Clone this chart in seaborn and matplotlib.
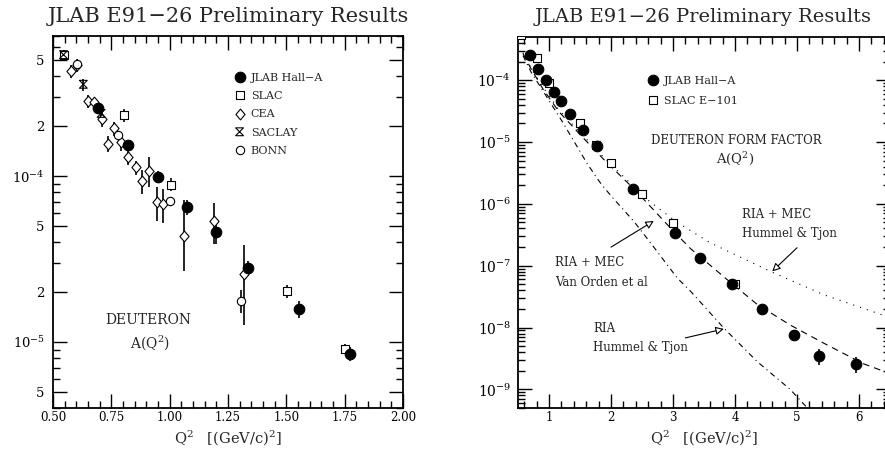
import numpy as np
import pandas as pd
import matplotlib
matplotlib.use("Agg")
import matplotlib.pyplot as plt
from matplotlib.path import Path
from matplotlib.ticker import FixedLocator, FixedFormatter, MultipleLocator, NullFormatter
import seaborn as sns

# ---------------- data: left panel (A(Q^2) vs Q^2) ----------------
jlab_q2 = [0.692, 0.823, 0.952, 1.073, 1.200, 1.336, 1.554, 1.773]
jlab_a = [2.58e-4, 1.54e-4, 9.9e-5, 6.5e-5, 4.6e-5, 2.79e-5, 1.58e-5, 8.5e-6]
jlab_err = [0.8e-5, 0.8e-5, 0.8e-5, 0.65e-5, 0.7e-5, 0.28e-5, 0.19e-5, 0.085e-5]

slac_q2 = [0.545, 0.804, 1.004, 1.503, 1.752]
slac_a = [5.4e-4, 2.33e-4, 8.9e-5, 2.03e-5, 9.1e-6]
slac_err = [3.8e-5, 2.1e-5, 0.8e-5, 1.8e-6, 0.64e-6]

cea_q2 = [0.576, 0.602, 0.651, 0.677, 0.709, 0.734, 0.761, 0.791, 0.823,
          0.854, 0.883, 0.911, 0.944, 0.973, 1.063, 1.191, 1.319]
cea_a = [4.3e-4, 4.67e-4, 2.83e-4, 2.8e-4, 2.2e-4, 1.57e-4, 1.94e-4, 1.61e-4, 1.31e-4,
         1.13e-4, 9.4e-5, 1.08e-4, 7.0e-5, 6.8e-5, 4.37e-5, 5.37e-5, 2.57e-5]
cea_err_lo = [3.7e-5, 4.1e-5, 2.5e-5, 1.7e-5, 2.2e-5, 1.7e-5, 1.9e-5, 1.9e-5, 1.4e-5,
              1.1e-5, 1.55e-5, 2.2e-5, 1.6e-5, 1.6e-5, 1.7e-5, 1.45e-5, 1.3e-5]
cea_err_hi = [3.7e-5, 4.1e-5, 2.5e-5, 1.7e-5, 2.2e-5, 1.7e-5, 1.9e-5, 1.9e-5, 1.4e-5,
              1.1e-5, 1.55e-5, 2.2e-5, 1.6e-5, 1.6e-5, 2.8e-5, 1.5e-5, 1.29e-5]

saclay_q2 = [0.545, 0.630, 0.706]
saclay_a = [5.4e-4, 3.58e-4, 2.39e-4]
saclay_err = [2.5e-5, 3.0e-5, 1.7e-5]

bonn_q2 = [0.603, 0.780, 1.001, 1.306]
bonn_a = [4.75e-4, 1.78e-4, 7.1e-5, 1.77e-5]
bonn_err = [2.5e-5, 1.0e-5, 0.4e-5, 0.28e-5]

# ---------------- data: right panel (extra high-Q^2 points) ----------------
jlab_hi_q2 = [2.35, 3.04, 3.44, 3.95, 4.44, 4.95, 5.36, 5.95]
jlab_hi_a = [1.75e-6, 3.4e-7, 1.35e-7, 5.1e-8, 2.0e-8, 7.7e-9, 3.5e-9, 2.6e-9]
jlab_hi_err = [0.1e-6, 0.25e-7, 0.1e-7, 0.77e-8, 0.34e-8, 1.6e-9, 1.0e-9, 0.73e-9]

slac_hi_q2 = [2.0, 2.5, 3.0, 4.0]
slac_hi_a = [4.6e-6, 1.45e-6, 4.9e-7, 5.0e-8]
slac_hi_err = [0.3e-6, 0.1e-6, 0.4e-7, 0.6e-8]

# theory curves
vo_q2 = [0.58, 0.7, 0.9, 1.16, 1.54, 1.92, 2.37, 2.91, 3.28, 3.87, 4.36, 4.89, 5.43, 6.07, 6.5]
vo_a = [2.7e-4, 1.6e-4, 7.3e-5, 3.1e-5, 1.2e-5, 4.8e-6, 1.75e-6, 4.6e-7, 1.9e-7,
        6.0e-8, 2.36e-8, 1.1e-8, 5.6e-9, 2.6e-9, 1.8e-9]
htmec_q2 = [0.58, 0.7, 0.9, 1.16, 1.54, 1.92, 2.37, 2.61, 3.07, 3.34, 3.6, 4.57, 5.43, 6.5]
htmec_a = [2.8e-4, 1.65e-4, 7.8e-5, 3.3e-5, 1.3e-5, 5.2e-6, 1.9e-6, 1.12e-6, 5.0e-7,
           3.4e-7, 2.35e-7, 8.1e-8, 3.4e-8, 1.45e-8]
ria_q2 = [0.58, 0.71, 1.0, 1.22, 1.62, 1.84, 2.02, 2.37, 2.63, 3.07, 3.28, 3.82, 4.36, 4.89, 5.2]
ria_a = [2.5e-4, 1.36e-4, 4.7e-5, 2.1e-5, 4.4e-6, 2.1e-6, 1.28e-6, 5.2e-7, 2.4e-7,
         6.3e-8, 3.9e-8, 9.8e-9, 2.8e-9, 1.0e-9, 4.6e-10]

left_xticks = [0.50, 0.75, 1.00, 1.25, 1.50, 1.75, 2.00]
left_xlabels = ["0.50", "0.75", "1.00", "1.25", "1.50", "1.75", "2.00"]
left_yticks = [5e-6, 1e-5, 2e-5, 5e-5, 1e-4, 2e-4, 5e-4]
left_ylabels = ["5", "10$^{-5}$", "2", "5", "10$^{-4}$", "2", "5"]
right_xticks = [1, 2, 3, 4, 5, 6]
right_yticks = [1e-9, 1e-8, 1e-7, 1e-6, 1e-5, 1e-4]
right_ylabels = ["10$^{-9}$", "10$^{-8}$", "10$^{-7}$", "10$^{-6}$", "10$^{-5}$", "10$^{-4}$"]

# ---------------- style ----------------
sns.set_style("ticks")
plt.rcParams["font.family"] = ["DejaVu Serif"]
plt.rcParams["mathtext.fontset"] = "dejavuserif"
plt.rcParams["mathtext.default"] = "regular"

W, H = 885, 451
fig = plt.figure(figsize=(W / 100, H / 100), dpi=100)
fig.patch.set_facecolor("white")


def frac(px, py):
    return px / W, 1 - py / H


axL = fig.add_axes([53 / W, 1 - 408 / H, 350 / W, 372 / H])
axR = fig.add_axes([518 / W, 1 - 408 / H, 372 / W, 371 / H])

# marker shapes
diamond = Path([(0, 1), (0.85, 0), (0, -1), (-0.85, 0), (0, 1)],
               [Path.MOVETO, Path.LINETO, Path.LINETO, Path.LINETO, Path.CLOSEPOLY])
hourglass = Path([(-1, 1), (1, 1), (-1, -1), (1, -1), (-1, 1)],
                 [Path.MOVETO, Path.LINETO, Path.LINETO, Path.LINETO, Path.CLOSEPOLY])


def errs(ax, q, a, e):
    ax.errorbar(q, a, yerr=e, fmt="none", ecolor="black", elinewidth=1.2, capsize=0, zorder=2)


def pts(ax, q, a, marker, s, fc, lw=0.8):
    sns.scatterplot(x=q, y=a, ax=ax, marker=marker, s=s, facecolor=fc,
                    edgecolor="black", linewidth=lw, zorder=3, legend=False)
    return ax.collections[-1]


def style_axes(ax, ysize):
    for sp in ax.spines.values():
        sp.set_visible(True)
        sp.set_linewidth(1.3)
        sp.set_color("black")
    ax.tick_params(which="both", direction="in", top=True, right=True, colors="black",
                   width=1.0)
    ax.tick_params(axis="x", labelsize=8.5)
    ax.tick_params(axis="y", labelsize=ysize)
    ax.tick_params(which="major", length=10)
    ax.tick_params(which="minor", length=5)
    ax.set_facecolor("white")
    ax.grid(False)


# ---------------- left panel ----------------
errs(axL, cea_q2, cea_a, [cea_err_lo, cea_err_hi])
errs(axL, slac_q2, slac_a, slac_err)
errs(axL, saclay_q2, saclay_a, saclay_err)
errs(axL, bonn_q2, bonn_a, bonn_err)
errs(axL, jlab_q2, jlab_a, jlab_err)
hC = pts(axL, cea_q2, cea_a, diamond, 60, "white")
hS = pts(axL, slac_q2, slac_a, "s", 28, "white")
hB = pts(axL, bonn_q2, bonn_a, "o", 36, "white")
hX = pts(axL, saclay_q2, saclay_a, hourglass, 32, "none")
hJ = pts(axL, jlab_q2, jlab_a, "o", 58, "black")

axL.set_yscale("log")
axL.set_xlim(0.5, 2.0)
axL.set_ylim(4e-6, 7e-4)
axL.xaxis.set_major_locator(FixedLocator(left_xticks))
axL.xaxis.set_major_formatter(FixedFormatter(left_xlabels))
axL.xaxis.set_minor_locator(MultipleLocator(0.05))
axL.yaxis.set_major_locator(FixedLocator(left_yticks))
axL.yaxis.set_major_formatter(FixedFormatter(left_ylabels))
left_minor = [k * 10.0 ** e for e in (-6, -5, -4) for k in (3, 4, 6, 7, 8, 9)]
axL.yaxis.set_minor_locator(FixedLocator(left_minor))
axL.yaxis.set_minor_formatter(NullFormatter())
style_axes(axL, 9.5)
axL.tick_params(axis="y", which="both", pad=6)
axL.tick_params(axis="x", which="both", pad=2)
axL.set_xlabel("Q$^2$   [(GeV/c)$^2$]", fontsize=10.5, labelpad=3)
axL.set_ylabel("")

axL.legend([hJ, hS, hC, hX, hB], ["JLAB Hall\u2212A", "SLAC", "CEA", "SACLAY", "BONN"],
           loc="upper left", bbox_to_anchor=frac(234, 73), bbox_transform=fig.transFigure,
           frameon=False, fontsize=8, handlelength=1.0, handletextpad=0.5,
           labelspacing=0.74, borderpad=0, borderaxespad=0, scatteryoffsets=[0.5])

fig.text(*frac(148, 320), "DEUTERON", ha="center", va="center", fontsize=10)
fig.text(*frac(150, 343), "A(Q$^2$)", ha="center", va="center", fontsize=10)
fig.text(*frac(228, 17), "JLAB E91\u221226 Preliminary Results", ha="center", va="center",
         fontsize=15)

# ---------------- right panel ----------------
sns.lineplot(x=htmec_q2, y=htmec_a, ax=axR, color="black", lw=0.8, linestyle=(0, (1, 5.5)),
             sort=False, estimator=None, zorder=1)
sns.lineplot(x=vo_q2, y=vo_a, ax=axR, color="black", lw=0.8, linestyle=(0, (6, 4.5)),
             sort=False, estimator=None, zorder=1)
sns.lineplot(x=ria_q2, y=ria_a, ax=axR, color="black", lw=0.8, linestyle=(0, (5, 3.5, 1, 3.5)),
             sort=False, estimator=None, zorder=1)

errs(axR, slac_q2, slac_a, slac_err)
errs(axR, slac_hi_q2, slac_hi_a, slac_hi_err)
errs(axR, jlab_q2, jlab_a, jlab_err)
errs(axR, jlab_hi_q2, jlab_hi_a, jlab_hi_err)
hS2 = pts(axR, slac_q2, slac_a, "s", 28, "white")
pts(axR, slac_hi_q2, slac_hi_a, "s", 28, "white")
hJ2 = pts(axR, jlab_q2, jlab_a, "o", 58, "black")
pts(axR, jlab_hi_q2, jlab_hi_a, "o", 58, "black")

axR.set_yscale("log")
axR.set_xlim(0.5, 6.5)
axR.set_ylim(5e-10, 5e-4)
axR.xaxis.set_major_locator(FixedLocator(right_xticks))
axR.xaxis.set_major_formatter(FixedFormatter([str(t) for t in right_xticks]))
axR.xaxis.set_minor_locator(MultipleLocator(0.2))
axR.yaxis.set_major_locator(FixedLocator(right_yticks))
axR.yaxis.set_major_formatter(FixedFormatter(right_ylabels))
right_minor = [k * 10.0 ** e for e in range(-10, -3) for k in range(2, 10)]
axR.yaxis.set_minor_locator(FixedLocator(right_minor))
axR.yaxis.set_minor_formatter(NullFormatter())
style_axes(axR, 10)
axR.tick_params(axis="y", which="both", pad=5)
axR.tick_params(axis="x", which="both", pad=2)
axR.set_xlabel("Q$^2$   [(GeV/c)$^2$]", fontsize=10.5, labelpad=3)
axR.set_ylabel("")

axR.legend([hJ2, hS2], ["JLAB Hall\u2212A", "SLAC E\u2212101"],
           loc="upper left", bbox_to_anchor=frac(647, 76), bbox_transform=fig.transFigure,
           frameon=False, fontsize=8, handlelength=1.0, handletextpad=0.5,
           labelspacing=0.93, borderpad=0, borderaxespad=0, scatteryoffsets=[0.5])

fig.text(*frac(736, 140), "DEUTERON FORM FACTOR", ha="center", va="center", fontsize=8.5)
fig.text(*frac(735, 159), "A(Q$^2$)", ha="center", va="center", fontsize=9.5)
fig.text(*frac(742, 214), "RIA + MEC", ha="left", va="center", fontsize=8.5)
fig.text(*frac(742, 234), "Hummel & Tjon", ha="left", va="center", fontsize=8.5)
fig.text(*frac(555, 262), "RIA + MEC", ha="left", va="center", fontsize=8.5)
fig.text(*frac(555, 282), "Van Orden et al", ha="left", va="center", fontsize=8.5)
fig.text(*frac(593, 328), "RIA", ha="left", va="center", fontsize=8.5)
fig.text(*frac(593, 348), "Hummel & Tjon", ha="left", va="center", fontsize=8.5)
fig.text(*frac(703, 17), "JLAB E91\u221226 Preliminary Results", ha="center", va="center",
         fontsize=14)

arrow = dict(arrowstyle="-|>", fc="white", ec="black", lw=0.8, mutation_scale=12,
             shrinkA=0, shrinkB=0)
axR.annotate("", xy=(2.69, 5.3e-7), xytext=(2.0, 2.0e-7), arrowprops=arrow)
axR.annotate("", xy=(4.6, 8.1e-8), xytext=(5.0, 1.95e-7), arrowprops=arrow)
axR.annotate("", xy=(3.82, 9.5e-9), xytext=(3.2, 6.8e-9), arrowprops=arrow)

fig.savefig("out.png", dpi=100, facecolor="white")
